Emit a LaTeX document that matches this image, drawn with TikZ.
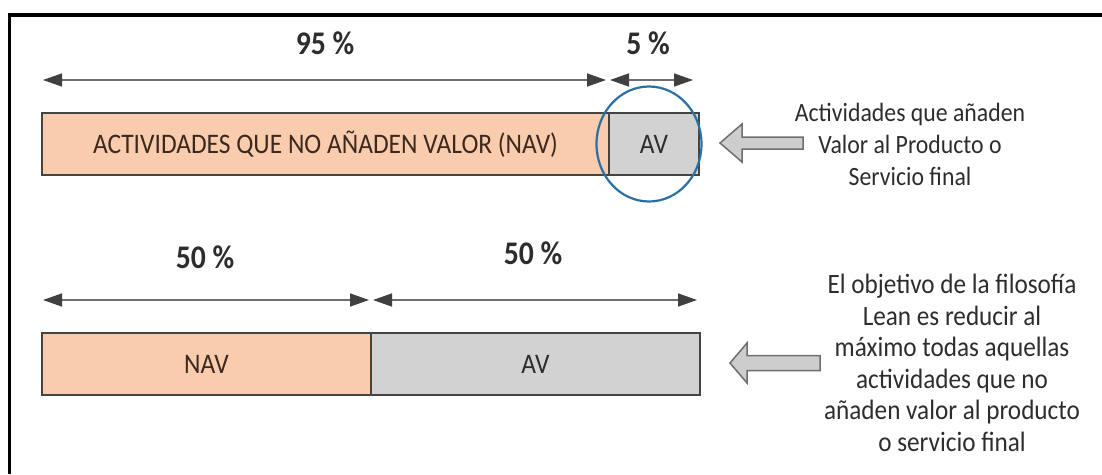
\documentclass[tikz,border=0pt]{standalone}
\usepackage{fontspec}
\setmainfont{Carlito}[FakeStretch=0.9]
\usepackage{tikz}
\usetikzlibrary{arrows.meta, positioning, shapes.geometric}

\definecolor{navfill}{RGB}{248,204,173}
\definecolor{avfill}{RGB}{210,210,210}
\definecolor{cellline}{RGB}{68,68,68}
\definecolor{dimline}{RGB}{110,110,110}
\definecolor{dimhead}{RGB}{64,64,64}
\definecolor{ringblue}{RGB}{42,112,165}
\definecolor{txtgray}{RGB}{45,45,45}
\definecolor{navtxt}{RGB}{60,40,30}
\definecolor{blockfill}{RGB}{205,205,205}

\begin{document}
\begin{tikzpicture}[
            x = 1pt, y = 1pt, % pixel units, top edge at y = 0
            > = {Triangle[length=19pt,width=13pt,color=dimhead]}, % arrow head style
            line join = miter
        ]

        \tikzstyle{cell}=[
            draw = cellline,
            line width = 2pt,
            outer sep = 0pt,
            inner sep = 0pt,
            minimum height = 62pt,
            font = \fontsize{28.3}{32}\selectfont
        ]
        \tikzstyle{navcell}=[cell, fill = navfill, text = navtxt]
        \tikzstyle{avcell}=[cell, fill = avfill, text = txtgray]
        \tikzstyle{pct}=[text = txtgray, font = \fontsize{33}{36}\selectfont\bfseries]
        \tikzstyle{dim}=[<->, draw = dimline, line width = 1.5pt]
        \tikzstyle{note}=[text = txtgray, align = center]
        \tikzstyle{blockarrow}=[draw = dimline, fill = blockfill, line width = 1.5pt]

	\useasboundingbox (0,0) rectangle (1102,-474);
	\draw[line width = 3.5pt] (1102,-15) -- (9.5,-15) -- (9.5,-474);

	% upper bar
	\node[navcell, minimum width = 567pt, anchor = north west] (navtop) at (42,-113)
		{ACTIVIDADES QUE NO AÑADEN VALOR (NAV)};
	\node[avcell, minimum width = 90pt, right = 0pt of navtop] (avtop) {AV};
	\node[ellipse, draw = ringblue, line width = 2.2pt, minimum width = 105pt,
		minimum height = 115pt] (ring) at ([xshift=-5pt]avtop.center) {};

	\coordinate (d0) at ([yshift=33pt]navtop.north west);
	\coordinate (d1) at ([yshift=33pt]navtop.north east);
	\coordinate (d2) at ([yshift=33pt]avtop.north east);
	\draw[dim] ([xshift=1pt]d0) -- ([xshift=-3pt]d1);
	\draw[dim] ([xshift=1pt]d1) -- ([xshift=-6pt]d2);

	\node[pct] (p95) at (325,-43) {95 \%};
	\node[pct] (p5) at (648,-43) {5 \%};

	\node[note, font = \fontsize{26.4}{32}\selectfont] (notetop) at (910,-144)
		{Actividades que añaden\\Valor al Producto o\\Servicio final};
	\coordinate (tiptop) at (720,-143);
	\draw[blockarrow] (tiptop) -- ++(22,-19) -- ++(0,13) -- ++(61,0) -- ++(0,12)
		-- ++(-61,0) -- ++(0,13) -- cycle;

	% lower bar
	\node[navcell, minimum width = 329pt, anchor = north west] (navlow) at (42,-333) {NAV};
	\node[avcell, minimum width = 329pt, right = 0pt of navlow] (avlow) {AV};

	\coordinate (e0) at ([yshift=33pt]navlow.north west);
	\coordinate (e1) at ([yshift=33pt]navlow.north east);
	\coordinate (e2) at ([yshift=33pt]avlow.north east);
	\draw[dim] ([xshift=1pt]e0) -- ([xshift=-2pt]e1);
	\draw[dim] ([xshift=2pt]e1) -- ([xshift=-3pt]e2);

	\node[pct] (p50a) at (205,-257) {50 \%};
	\node[pct] (p50b) at (533,-253) {50 \%};

	\node[note, font = \fontsize{28}{31.5}\selectfont] (notelow) at (952,-363)
		{El objetivo de la filosofía\\Lean es reducir al\\máximo todas aquellas\\actividades que no\\añaden valor al producto\\o servicio final};
	\coordinate (tiplow) at (730,-363);
	\draw[blockarrow] (tiplow) -- ++(17,-20) -- ++(0,12.5) -- ++(73,0) -- ++(0,15)
		-- ++(-73,0) -- ++(0,12.5) -- cycle;

    \end{tikzpicture}
\end{document}
